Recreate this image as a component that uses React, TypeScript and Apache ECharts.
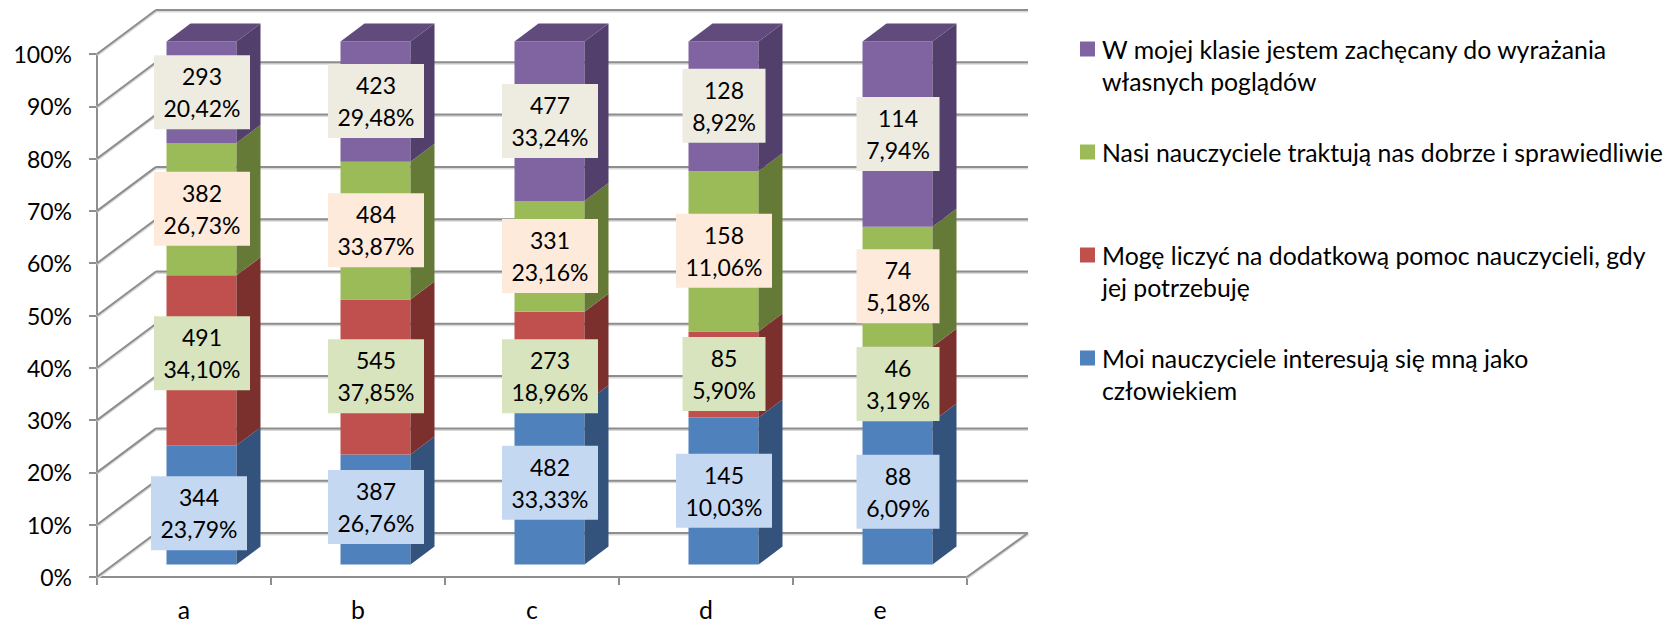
import React, { useEffect, useRef } from "react";
import * as echarts from "echarts";

const categories = ["a", "b", "c", "d", "e"];
const yTicks = [0, 10, 20, 30, 40, 50, 60, 70, 80, 90, 100];

const blueCounts = [344, 387, 482, 145, 88];
const redCounts = [491, 545, 273, 85, 46];
const greenCounts = [382, 484, 331, 158, 74];
const purpleCounts = [293, 423, 477, 128, 114];

const bluePercents = ["23,79%", "26,76%", "33,33%", "10,03%", "6,09%"];
const redPercents = ["34,10%", "37,85%", "18,96%", "5,90%", "3,19%"];
const greenPercents = ["26,73%", "33,87%", "23,16%", "11,06%", "5,18%"];
const purplePercents = ["20,42%", "29,48%", "33,24%", "8,92%", "7,94%"];

const legendNames = [
  "W mojej klasie jestem zachęcany do wyrażania\nwłasnych poglądów",
  "Nasi nauczyciele traktują nas dobrze i sprawiedliwie",
  "Mogę liczyć na dodatkową pomoc nauczycieli, gdy\njej potrzebuję",
  "Moi nauczyciele interesują się mną jako\nczłowiekiem",
];

// Label placement, hand-moved in the source: box centre on the value axis, x shift in px
const blueLabelAt = [12.2, 13.4, 18.0, 16.5, 16.3];
const redLabelAt = [42.8, 38.4, 38.4, 38.8, 36.9];
const greenLabelAt = [70.4, 66.3, 61.4, 62.4, 55.6];
const purpleLabelAt = [92.7, 91.0, 87.2, 90.1, 84.7];
const blueLabelDx = [-3, 0, 0, 0, 0];

const FONT = "Lato, Carlito, Calibri, sans-serif";
const FS = 23;
const LEGEND_FS = 24.8;
const BAR_W = 70;
const FRONT_DX = 17.5; // bar front plane relative to axis plane
const FRONT_DY = -12.5;
const LABEL_DX = 18;
const SIDE_DX = 24;
const SIDE_DY = -18;
const WALL_DY = -44;
const WALL_LEFT_DX = 59;
const WALL_RIGHT_DX = 61;

const seriesDefs = [
  { counts: blueCounts, percents: bluePercents, labelAt: blueLabelAt, front: "#4F81BD", side: "#34537C", box: "#C5D8F1" },
  { counts: redCounts, percents: redPercents, labelAt: redLabelAt, front: "#C0504D", side: "#7B302E", box: "#D8E4BD" },
  { counts: greenCounts, percents: greenPercents, labelAt: greenLabelAt, front: "#9BBB59", side: "#667A38", box: "#FDEADB" },
  { counts: purpleCounts, percents: purplePercents, labelAt: purpleLabelAt, front: "#8064A2", side: "#533F6B", box: "#EEECE1", cap: "#604B7C" },
];

const legendColors = ["#8064A2", "#9BBB59", "#C0504D", "#4F81BD"];
const legendLineY = [49, 152, 255, 358];

function gridLine(x1: number, y1: number, x2: number, y2: number) {
  return [
    { type: "line", shape: { x1, y1: y1 + 1, x2, y2: y2 + 1 }, style: { stroke: "#D9D9D9", lineWidth: 3 } },
    { type: "line", shape: { x1, y1, x2, y2 }, style: { stroke: "#8E8E8E", lineWidth: 2 } },
  ];
}

export default function App() {
  const ref = useRef<HTMLDivElement>(null);
  useEffect(() => {
    const chart = echarts.init(ref.current!, undefined, { renderer: "svg" });

    const totals = categories.map((_, i) => seriesDefs.reduce((s, d) => s + d.counts[i], 0));
    const running = categories.map(() => 0);

    const barSeries = seriesDefs.map((def, si) => {
      const data = categories.map((_, i) => {
        const start = (running[i] / totals[i]) * 100;
        running[i] += def.counts[i];
        const end = (running[i] / totals[i]) * 100;
        return [i, start, end];
      });
      return {
        type: "custom",
        name: legendNames[3 - si],
        coordinateSystem: "cartesian2d",
        encode: { x: 0, y: [1, 2] },
        z: 3 + si,
        data,
        renderItem: (_p: any, api: any) => {
          const base = api.coord([api.value(0), api.value(1)]);
          const top = api.coord([api.value(0), api.value(2)]);
          const x0 = base[0] + FRONT_DX - BAR_W / 2;
          const x1 = x0 + BAR_W;
          const yB = base[1] + FRONT_DY;
          const yT = top[1] + FRONT_DY;
          const children: any[] = [
            { type: "rect", shape: { x: x0, y: yT, width: BAR_W, height: yB - yT }, style: { fill: def.front } },
            {
              type: "polygon",
              shape: { points: [[x1, yT], [x1 + SIDE_DX, yT + SIDE_DY], [x1 + SIDE_DX, yB + SIDE_DY], [x1, yB]] },
              style: { fill: def.side },
            },
          ];
          if (def.cap) {
            children.push({
              type: "polygon",
              shape: { points: [[x0, yT], [x0 + SIDE_DX, yT + SIDE_DY], [x1 + SIDE_DX, yT + SIDE_DY], [x1, yT]] },
              style: { fill: def.cap },
            });
          }
          return { type: "group", children };
        },
      };
    });

    const labelSeries = seriesDefs.map((def, si) => ({
      type: "custom",
      coordinateSystem: "cartesian2d",
      encode: { x: 0, y: 1 },
      z: 20 + si,
      data: categories.map((_, i) => [i, def.labelAt[i]]),
      renderItem: (p: any, api: any) => {
        const i = p.dataIndex;
        const c = api.coord([api.value(0), api.value(1)]);
        const pct = def.percents[i];
        const w = pct.length > 5 ? 96 : 83;
        const cx = c[0] + LABEL_DX + (si === 0 ? blueLabelDx[i] : 0);
        const font = `${FS}px ${FONT}`;
        return {
          type: "group",
          children: [
            { type: "rect", shape: { x: cx - w / 2, y: c[1] - 37, width: w, height: 74 }, style: { fill: def.box } },
            { type: "text", style: { text: String(def.counts[i]), x: cx, y: c[1] - 16, align: "center", verticalAlign: "middle", font, fill: "#000" } },
            { type: "text", style: { text: pct, x: cx, y: c[1] + 16, align: "center", verticalAlign: "middle", font, fill: "#000" } },
          ],
        };
      },
    }));

    const wallSeries = {
      type: "custom",
      coordinateSystem: "cartesian2d",
      encode: { x: 0, y: 1 },
      z: 1,
      silent: true,
      data: yTicks.map((t) => [0, t]),
      renderItem: (p: any, api: any) => {
        const y = api.coord([0, api.value(1)])[1];
        const left = p.coordSys.x;
        const right = p.coordSys.x + p.coordSys.width;
        const backL = left + WALL_LEFT_DX;
        const backR = right + WALL_RIGHT_DX;
        const yB = y + WALL_DY;
        const children: any[] = [...gridLine(left, y, backL, yB), ...gridLine(backL, yB, backR, yB)];
        if (api.value(1) === 0) children.push(...gridLine(right, y, backR, yB));
        return { type: "group", children };
      },
    };

    const legendGraphics = legendNames.flatMap((name, i) => [
      { type: "rect", left: 1080, top: legendLineY[i] - 7.5, shape: { width: 15, height: 15 }, style: { fill: legendColors[i] } },
      {
        type: "text",
        x: 1102,
        y: legendLineY[i] - 16,
        style: { text: name, font: `${LEGEND_FS}px ${FONT}`, lineHeight: 32, fill: "#000", verticalAlign: "top", align: "left" },
      },
    ]);

    chart.setOption({
      animation: false,
      backgroundColor: "#fff",
      tooltip: { show: false },
      grid: { left: 97, top: 54, width: 870, height: 523 },
      xAxis: {
        type: "category",
        data: categories,
        boundaryGap: true,
        axisLine: { lineStyle: { color: "#8E8E8E", width: 2 } },
        axisTick: { show: true, alignWithLabel: false, length: 8, lineStyle: { color: "#8E8E8E", width: 2 } },
        axisLabel: { color: "#000", fontFamily: FONT, fontSize: LEGEND_FS, margin: 20 },
        splitLine: { show: false },
      },
      yAxis: {
        type: "value",
        min: 0,
        max: 100,
        interval: 10,
        axisLine: { show: true, lineStyle: { color: "#8E8E8E", width: 2 } },
        axisTick: { show: true, length: 8, lineStyle: { color: "#8E8E8E", width: 2 } },
        axisLabel: { color: "#000", fontFamily: FONT, fontSize: FS, margin: 25, padding: [3, 0, 0, 0], formatter: "{value}%" },
        splitLine: { show: false },
      },
      graphic: legendGraphics,
      series: [wallSeries, ...barSeries, ...labelSeries],
    });
    return () => chart.dispose();
  }, []);
  return <div ref={ref} style={{ position: "absolute", left: 0, top: 0, width: 1672, height: 623 }} />;
}
